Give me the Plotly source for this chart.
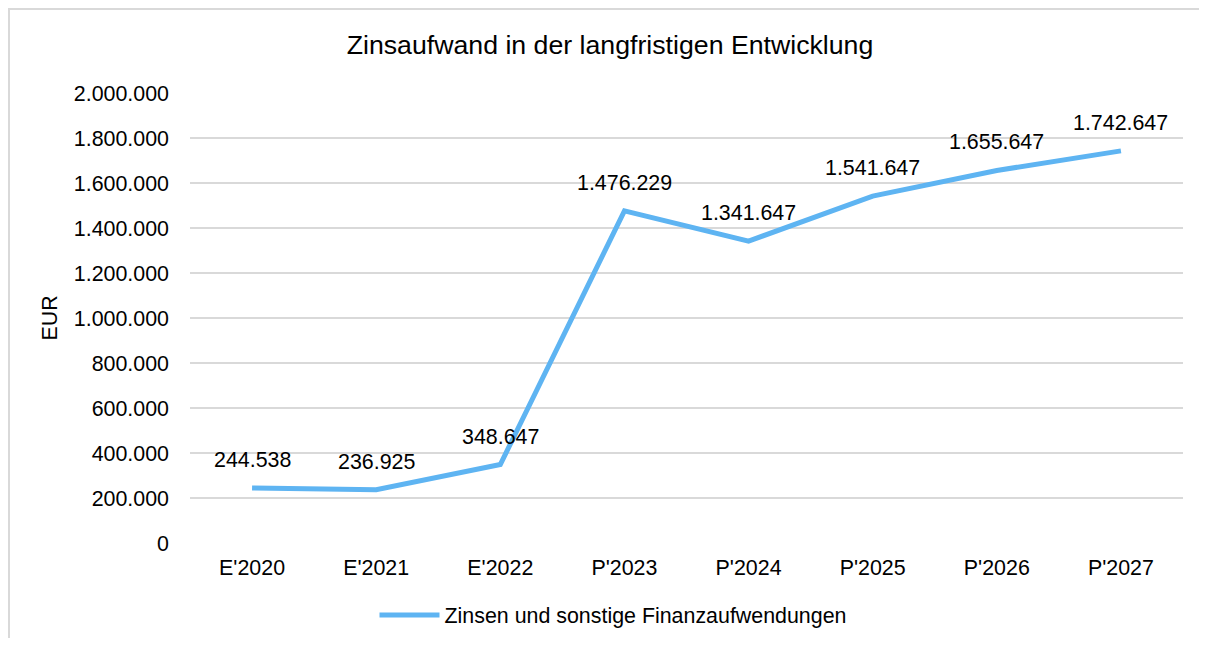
import plotly.graph_objects as go

categories = ["E'2020", "E'2021", "E'2022", "P'2023", "P'2024", "P'2025", "P'2026", "P'2027"]
values = [244538, 236925, 348647, 1476229, 1341647, 1541647, 1655647, 1742647]
series_name = "Zinsen und sonstige Finanzaufwendungen"
y_ticks = [0, 200000, 400000, 600000, 800000, 1000000, 1200000, 1400000, 1600000, 1800000, 2000000]


def de_fmt(v):
    return f"{v:,.0f}".replace(",", ".")


# page body has an 8px margin; figure coordinates below are relative to the figure
W, H = 1191, 630
ML, MR, MT, MB = 182, 16, 85, 95
pw, ph = W - ML - MR, H - MT - MB

FONT = "Liberation Sans, Arial, sans-serif"
FS = 21.4
LINE_COLOR = "#5EB4F2"

fig = go.Figure()
fig.add_trace(go.Scatter(
    x=categories, y=values, mode="lines", name=series_name,
    line=dict(color=LINE_COLOR, width=5), showlegend=True,
))

annotations = []
for c, v in zip(categories, values):
    annotations.append(dict(
        x=c, y=v, xref="x", yref="y", text=de_fmt(v), showarrow=False,
        yshift=28, font=dict(family=FONT, size=FS, color="#000000"),
    ))

# chart border (left/top visible)
shapes = [dict(type="rect", xref="paper", yref="paper",
               x0=(1 - ML) / pw, x1=(W + 20 - ML) / pw,
               y0=-(MB + 20) / ph, y1=(H - MB - 1) / ph,
               line=dict(color="#D9D9D9", width=2), layer="below")]

fig.update_layout(
    width=W, height=H,
    margin=dict(l=ML, r=MR, t=MT, b=MB, autoexpand=False),
    paper_bgcolor="white", plot_bgcolor="white",
    font=dict(family=FONT, size=FS, color="#000000"),
    title=dict(text="Zinsaufwand in der langfristigen Entwicklung", x=602 / W, xanchor="center",
               y=1 - 37 / H, yanchor="middle", font=dict(family=FONT, size=26.7, color="#000000")),
    xaxis=dict(type="category", range=[-0.5, 7.5], showgrid=False, zeroline=False,
               showline=False, ticks="", ticklabelstandoff=10,
               tickfont=dict(family=FONT, size=FS, color="#000000")),
    yaxis=dict(range=[0, 2000000], tickvals=y_ticks, ticktext=[de_fmt(t) for t in y_ticks],
               showgrid=True, gridcolor="#D9D9D9", gridwidth=1.5, zeroline=False,
               showline=False, ticks="", ticklabelstandoff=20,
               tickfont=dict(family=FONT, size=FS, color="#000000"),
               title=dict(text="EUR", standoff=10, font=dict(family=FONT, size=FS, color="#000000"))),
    legend=dict(orientation="h", x=(605 - ML) / pw, xanchor="center",
                y=-(607 - (H - MB)) / ph, yanchor="middle",
                font=dict(family=FONT, size=FS, color="#000000"), itemwidth=60,
                bgcolor="rgba(0,0,0,0)"),
    annotations=annotations,
    shapes=shapes,
)

fig.write_html("out.html")
